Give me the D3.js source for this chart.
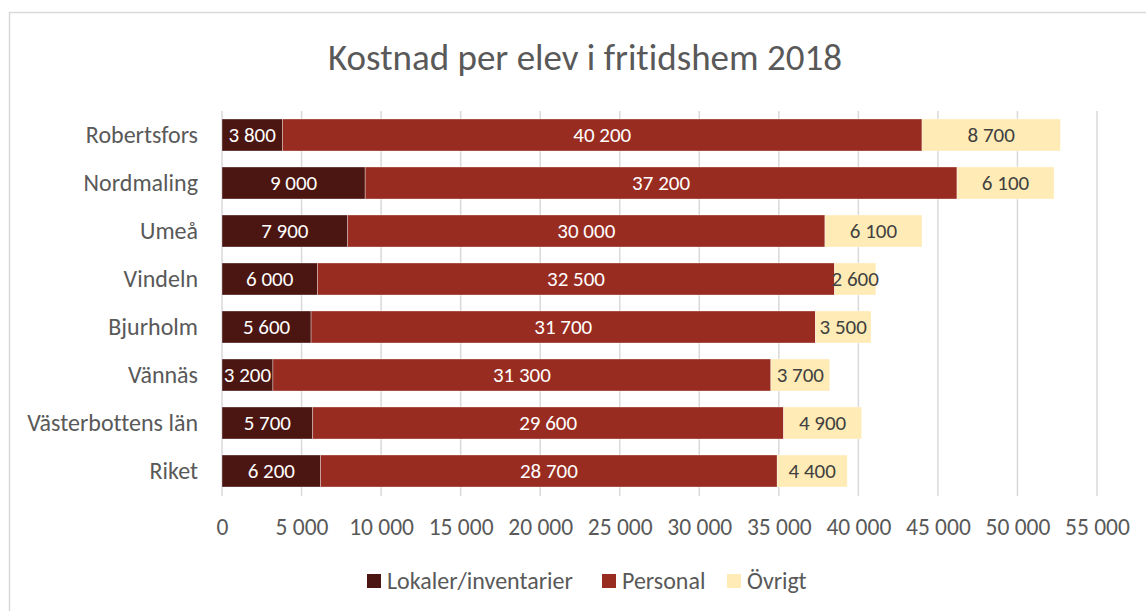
<!DOCTYPE html>
<html>
<head>
<meta charset="utf-8">
<script src="https://cdn.jsdelivr.net/npm/d3@7"></script>
<style>
  body { margin: 0; background: #fff; }
  svg { display: block; font-family: Calibri, Carlito, Lato, sans-serif; font-variant-ligatures: none; }
</style>
</head>
<body>
<div id="chart"></div>
<script>
/* Kostnad per elev i fritidshem 2018 - stacked horizontal bars */

const kommuner = ["Robertsfors", "Nordmaling", "Umeå", "Vindeln", "Bjurholm", "Vännäs", "Västerbottens län", "Riket"];
const lokaler  = [3800, 9000, 7900, 6000, 5600, 3200, 5700, 6200];
const personal = [40200, 37200, 30000, 32500, 31700, 31300, 29600, 28700];
const ovrigt   = [8700, 6100, 6100, 2600, 3500, 3700, 4900, 4400];
const serier   = ["Lokaler/inventarier", "Personal", "Övrigt"];
const xTicks   = [0, 5000, 10000, 15000, 20000, 25000, 30000, 35000, 40000, 45000, 50000, 55000];

const width = 1146, height = 611;
const margin = { top: 111, right: 49, bottom: 116, left: 222 };
const colors = ["#4b1611", "#992c21", "#ffebb6"];
const labelColors = ["#ffffff", "#ffffff", "#404040"];

const sv = d3.formatLocale({ decimal: ",", thousands: "\u00a0", grouping: [3], currency: ["", " kr"] });
const fmt = sv.format(",d");

// build rows for the stack
const data = kommuner.map((k, i) => ({
    kommun: k,
    "Lokaler/inventarier": lokaler[i],
    "Personal": personal[i],
    "Övrigt": ovrigt[i]
}));
const stacked = d3.stack().keys(serier)(data);

const svg = d3.select("#chart").append("svg")
    .attr("width", width)
    .attr("height", height);

// chart area border (continues past right/bottom edge)
svg.append("rect")
    .attr("x", 9.5)
    .attr("y", 12.5)
    .attr("width", 1200)
    .attr("height", 700)
    .attr("fill", "#fff")
    .attr("stroke", "#d9d9d9")
    .attr("stroke-width", 1.5);

svg.append("text")
    .attr("x", 585)
    .attr("y", 70)
    .attr("text-anchor", "middle")
    .style("font-size", "37px")
    .attr("fill", "#595959")
    .text("Kostnad per elev i fritidshem 2018");

const x = d3.scaleLinear()
    .domain([0, 55000])
    .range([margin.left, width - margin.right]);

const y = d3.scaleBand()
    .domain(kommuner)
    .range([margin.top, height - margin.bottom])
    .paddingInner(1 / 3)
    .paddingOuter(1 / 6);

// vertical gridlines
svg.append("g")
    .selectAll("line")
    .data(xTicks)
    .join("line")
    .attr("x1", d => x(d))
    .attr("x2", d => x(d))
    .attr("y1", margin.top)
    .attr("y2", height - margin.bottom + 1)
    .attr("stroke", "#d9d9d9")
    .attr("stroke-width", 1.5);

// x axis labels
const xAxis = g => g
    .attr("transform", `translate(0,${height - margin.bottom})`)
    .call(d3.axisBottom(x).tickValues(xTicks).tickFormat(fmt).tickSize(0).tickPadding(23))
    .call(g => g.select(".domain").remove())
    .call(g => g.selectAll("text")
        .attr("fill", "#595959")
        .style("font-size", "23.5px")
        .style("font-family", "Calibri, Carlito, Lato, sans-serif"));

const yAxis = g => g
    .attr("transform", `translate(${margin.left - 24},0)`)
    .call(d3.axisLeft(y).tickSize(0).tickPadding(0))
    .call(g => g.select(".domain").remove())
    .call(g => g.selectAll("text")
        .attr("fill", "#595959")
        .style("font-size", "24px")
        .style("font-family", "Calibri, Carlito, Lato, sans-serif"));

svg.append("g").call(xAxis);
svg.append("g").call(yAxis);

// bars
const layer = svg.append("g")
    .selectAll("g")
    .data(stacked)
    .join("g")
    .attr("fill", (d, i) => colors[i]);

layer.selectAll("rect")
    .data(d => d)
    .join("rect")
    .attr("x", d => x(d[0]))
    .attr("y", d => y(d.data.kommun))
    .attr("width", d => x(d[1]) - x(d[0]))
    .attr("height", y.bandwidth())
    .attr("stroke", "rgba(255,255,255,0.45)")
    .attr("stroke-width", 0.75);

// data labels
layer.selectAll("text")
    .data((d, i) => d.map(v => ({ v, i })))
    .join("text")
    .attr("x", d => (x(d.v[0]) + x(d.v[1])) / 2)
    .attr("y", d => y(d.v.data.kommun) + y.bandwidth() / 2)
    .attr("dy", "0.35em")
    .attr("text-anchor", "middle")
    .attr("fill", d => labelColors[d.i])
    .style("font-size", "21px")
    .text(d => fmt(d.v[1] - d.v[0]));

// legend
const legendX = [367, 602, 727];
const legend = svg.append("g")
    .selectAll("g")
    .data(serier)
    .join("g")
    .attr("transform", (d, i) => `translate(${legendX[i]},574)`);

legend.append("rect")
    .attr("width", 14)
    .attr("height", 14)
    .attr("fill", (d, i) => colors[i]);

legend.append("text")
    .attr("x", 20)
    .attr("y", 7)
    .attr("dy", "0.35em")
    .attr("fill", "#595959")
    .style("font-size", "24px")
    .text(d => d);
</script>
</body>
</html>
